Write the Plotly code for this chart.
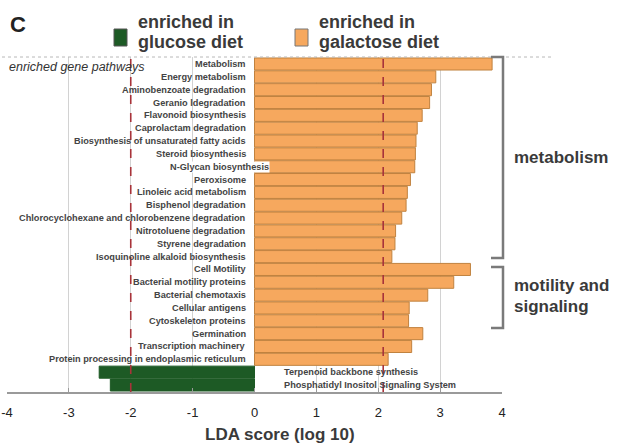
import plotly.graph_objects as go

# ---------------- data ----------------
pos_pathways = [
    "Metabolism", "Energy metabolism", "Aminobenzoate degradation", "Geranio ldegradation",
    "Flavonoid biosynthesis", "Caprolactam degradation", "Biosynthesis of unsaturated fatty acids",
    "Steroid biosynthesis", "N-Glycan biosynthesis", "Peroxisome", "Linoleic acid metabolism",
    "Bisphenol degradation", "Chlorocyclohexane and chlorobenzene degradation",
    "Nitrotoluene degradation", "Styrene degradation", "Isoquinoline alkaloid biosynthesis",
    "Cell Motility", "Bacterial motility proteins", "Bacterial chemotaxis", "Cellular antigens",
    "Cytoskeleton proteins", "Germination", "Transcription machinery",
    "Protein processing in endoplasmic reticulum",
]
pos_scores = [3.84, 2.93, 2.86, 2.83, 2.71, 2.63, 2.61, 2.60, 2.59, 2.52, 2.47, 2.45, 2.38,
              2.28, 2.27, 2.22, 3.49, 3.22, 2.80, 2.50, 2.49, 2.72, 2.54, 2.16]

neg_pathways = ["Terpenoid backbone synthesis", "Phosphatidyl Inositol Signaling System"]
neg_scores = [-2.51, -2.33]

thresholds = [-2.0, 2.08]
x_ticks = [-4, -3, -2, -1, 0, 1, 2, 3, 4]
legend_labels = [["enriched in", "glucose diet"], ["enriched in", "galactose diet"]]
group_labels = [["metabolism"], ["motility and", "signaling"]]

all_cats = pos_pathways + neg_pathways

ORANGE = "#F6A85E"
ORANGE_LINE = "#C0823F"
GREEN = "#1D5A25"
TXT = "#3a3a3a"

# ---------------- pixel geometry helpers ----------------
W, H = 618, 446
L, R, T, B = 7, 116, 57, 54
PW, PH = W - L - R, H - T - B


def px(xp):
    return (xp - L) / PW


def py(yp):
    return (H - B - yp) / PH


fig = go.Figure()
fig.add_trace(go.Bar(y=pos_pathways, x=pos_scores, orientation="h",
                     marker=dict(color=ORANGE, line=dict(color=ORANGE_LINE, width=1)),
                     showlegend=False, hoverinfo="x+y"))
fig.add_trace(go.Bar(y=neg_pathways, x=neg_scores, orientation="h",
                     marker=dict(color=GREEN, line=dict(color=GREEN, width=1)),
                     showlegend=False, hoverinfo="x+y"))

shapes = []
# top dotted border
shapes.append(dict(type="line", xref="paper", yref="paper", x0=px(2), x1=px(551), y0=1, y1=1,
                   line=dict(color="#b8b8b8", width=1, dash="dot")))
# threshold dashed lines
for t in thresholds:
    shapes.append(dict(type="line", xref="x", yref="paper", x0=t, x1=t, y0=0, y1=1,
                       line=dict(color="#a8333a", width=1.6, dash="dash"), layer="above"))


# brackets
def bracket(y_top, y_bot, x_v=503, x_h=491):
    return dict(type="path", xref="paper", yref="paper",
                path=f"M {px(x_h)},{py(y_top)} L {px(x_v)},{py(y_top)} L {px(x_v)},{py(y_bot)} L {px(x_h)},{py(y_bot)}",
                line=dict(color="#7a7a7a", width=2.5))


shapes.append(bracket(57, 258))
shapes.append(bracket(267, 328))

# legend squares
shapes.append(dict(type="rect", xref="paper", yref="paper", x0=px(114), x1=px(127), y0=py(46), y1=py(29),
                   fillcolor=GREEN, line=dict(color="#555", width=1)))
shapes.append(dict(type="rect", xref="paper", yref="paper", x0=px(295), x1=px(308), y0=py(46), y1=py(29),
                   fillcolor=ORANGE, line=dict(color="#777", width=1)))

ann = []
lab_font = dict(family="Arial", size=9.2, color="#444")
for name in pos_pathways:
    if name == "N-Glycan biosynthesis":
        ann.append(dict(x=0, y=name, xref="x", yref="y", text=f"<b>{name}</b>", showarrow=False,
                        xanchor="right", xshift=15, font=lab_font, bgcolor="white", borderpad=0))
    else:
        ann.append(dict(x=0, y=name, xref="x", yref="y", text=f"<b>{name}</b>", showarrow=False,
                        xanchor="right", xshift=-7, font=lab_font))
for name in neg_pathways:
    ann.append(dict(x=0, y=name, xref="x", yref="y", text=f"<b>{name}</b>", showarrow=False,
                    xanchor="left", xshift=27, font=lab_font))

ann.append(dict(x=px(7), y=py(67), xref="paper", yref="paper", text="<i>enriched gene pathways</i>",
                showarrow=False, xanchor="left", yanchor="middle",
                font=dict(family="Arial", size=12.5, color="#333")))
ann.append(dict(x=px(8), y=py(25), xref="paper", yref="paper", text="<b>C</b>", showarrow=False,
                xanchor="left", yanchor="middle", font=dict(family="Arial", size=22, color="#222")))

# legend text
for (lines, x0) in zip(legend_labels, [136, 317]):
    for i, ln in enumerate(lines):
        ann.append(dict(x=px(x0), y=py(22 + 20 * i), xref="paper", yref="paper", text=f"<b>{ln}</b>",
                        showarrow=False, xanchor="left", yanchor="middle",
                        font=dict(family="Arial", size=18, color=TXT)))

# group labels
for lines, y0 in zip(group_labels, [157, 285]):
    for i, ln in enumerate(lines):
        ann.append(dict(x=px(512), y=py(y0 + 21 * i), xref="paper", yref="paper", text=f"<b>{ln}</b>",
                        showarrow=False, xanchor="left", yanchor="middle",
                        font=dict(family="Arial", size=17, color=TXT)))

# x axis title
ann.append(dict(x=px(280), y=py(434), xref="paper", yref="paper", text="<b>LDA score (log 10)</b>",
                showarrow=False, xanchor="center", yanchor="middle",
                font=dict(family="Arial", size=17, color=TXT)))

fig.update_layout(
    width=W, height=H,
    margin=dict(l=L, r=R, t=T, b=B, pad=0, autoexpand=False),
    paper_bgcolor="white", plot_bgcolor="white",
    barmode="overlay", bargap=0.06,
    shapes=shapes, annotations=ann,
    xaxis=dict(range=[-4, 4], tickvals=x_ticks, ticktext=[str(v) for v in x_ticks],
               showgrid=True, gridcolor="#d2d2d2", gridwidth=1, zeroline=False,
               showline=True, linecolor="#9a9a9a", linewidth=1.5,
               ticks="inside", ticklen=4, tickcolor="#9a9a9a",
               tickfont=dict(family="Arial", size=13, color="#222"),
               ticklabelstandoff=8, ticklabeloverflow="allow",
               fixedrange=True, automargin=False),
    yaxis=dict(categoryorder="array", categoryarray=all_cats, autorange="reversed",
               showticklabels=False, showgrid=False, zeroline=False, showline=False,
               ticks="", fixedrange=True, automargin=False),
    font=dict(family="Arial"),
)

fig.write_html("out.html", config={"displayModeBar": False},
               post_script="document.body.style.margin='0';document.body.style.overflow='hidden';")
